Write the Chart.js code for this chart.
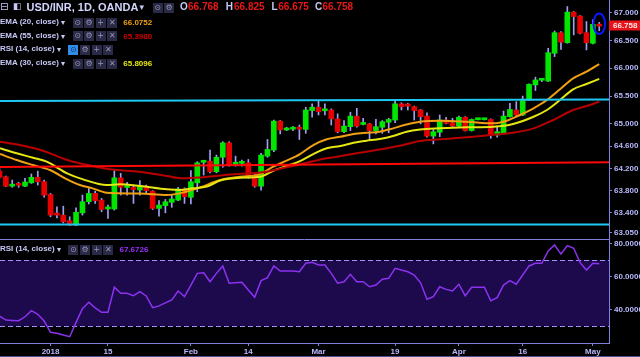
<!DOCTYPE html>
<html><head><meta charset="utf-8">
<script src="https://cdn.jsdelivr.net/npm/chart.js@4.4.1/dist/chart.umd.min.js"></script>
<style>
html,body{margin:0;padding:0;background:#000;width:640px;height:357px;overflow:hidden;font-family:"Liberation Sans",Arial,sans-serif;}
canvas{position:absolute;left:0;background:#000;}
#c1{top:0;}
#c2{top:240px;}
.t{position:absolute;white-space:nowrap;line-height:1;}
.lab{font-weight:bold;font-size:8px;color:#c8c8f8;}
.box{position:absolute;width:10px;height:10px;background:#2a2a46;color:#9494b8;font:8px "DejaVu Sans";line-height:10px;text-align:center;}
.box.hi{background:#2f8fe8;color:#10306a;}
</style></head><body>
<canvas id="c1" width="640" height="240"></canvas>
<canvas id="c2" width="640" height="117"></canvas>
<div id="leg"></div>
<script>
// ---------- DATA ----------
const opens  = [64.15,64.05,63.88,63.905,63.88,63.94,64.04,63.96,63.73,63.37,63.36,63.26,63.18,63.40,63.60,63.75,63.63,63.47,63.47,64.03,63.855,63.86,63.81,63.88,63.79,63.48,63.53,63.59,63.63,63.83,63.68,63.94,64.31,64.33,64.14,64.40,64.66,64.275,64.29,64.30,64.08,63.88,64.42,64.53,65.05,64.89,64.905,64.915,64.90,65.24,65.30,65.235,65.25,65.09,64.86,64.95,65.14,64.99,65.00,64.88,64.94,65.03,65.07,65.36,65.325,65.31,65.25,65.14,64.78,64.85,65.07,65.02,64.96,65.12,64.88,65.075,65.075,65.08,64.80,64.84,65.13,65.25,65.16,65.43,65.70,65.785,65.77,66.27,66.64,66.46,67.01,66.94,66.64,66.45,66.768];
const highs  = [64.19,64.06,63.99,63.95,64.02,64.10,64.15,63.99,63.75,63.51,63.52,63.33,63.49,63.72,63.84,63.79,63.66,63.54,64.16,64.11,63.95,63.90,63.98,63.90,63.80,63.62,63.64,63.72,63.86,63.85,64.16,64.32,64.34,64.53,64.44,64.68,64.68,64.42,64.35,64.36,64.10,64.47,64.72,65.07,65.06,64.94,64.95,64.98,65.30,65.36,65.42,65.36,65.27,65.18,65.06,65.21,65.28,65.10,65.01,65.08,65.06,65.10,65.42,65.38,65.37,65.32,65.26,65.20,64.90,65.16,65.12,65.10,65.14,65.13,65.09,65.09,65.09,65.09,64.96,65.23,65.37,65.40,65.50,65.72,65.84,65.82,66.36,66.67,66.66,67.11,67.02,66.95,66.84,66.87,66.825];
const lows   = [64.02,63.87,63.86,63.86,63.87,63.93,63.90,63.68,63.33,63.31,63.22,63.17,63.17,63.36,63.56,63.57,63.42,63.30,63.45,63.72,63.72,63.57,63.72,63.75,63.46,63.34,63.40,63.50,63.62,63.57,63.56,63.78,64.08,64.12,64.12,64.22,64.24,64.24,64.24,64.02,63.86,63.81,64.40,64.50,64.82,64.88,64.88,64.72,64.83,65.12,65.16,65.16,64.98,64.84,64.84,64.88,64.94,64.98,64.72,64.82,64.83,64.84,65.02,65.25,65.25,65.07,65.00,64.76,64.64,64.77,65.00,64.94,64.95,64.87,64.87,65.07,65.07,64.74,64.76,64.82,65.12,65.13,65.15,65.42,65.60,65.76,65.76,66.21,66.34,66.45,66.60,66.62,66.33,66.44,66.675];
const closes = [64.04,63.88,63.90,63.895,63.955,64.04,63.96,63.72,63.36,63.36,63.24,63.18,63.41,63.60,63.75,63.62,63.46,63.48,64.03,63.86,63.865,63.82,63.89,63.80,63.48,63.54,63.60,63.65,63.83,63.69,63.96,64.30,64.32,64.14,64.40,64.66,64.26,64.28,64.30,64.08,63.88,64.44,64.54,65.05,64.89,64.90,64.91,64.905,65.25,65.30,65.22,65.24,65.09,64.86,64.96,65.14,64.96,65.00,64.88,64.95,65.04,65.08,65.36,65.31,65.32,65.24,65.13,64.78,64.86,65.07,65.01,64.96,65.12,64.88,65.08,65.08,65.08,64.80,64.86,65.14,65.26,65.16,65.43,65.71,65.79,65.79,66.28,66.64,66.47,67.01,66.93,66.63,66.46,66.79,66.758];

const ema20X = [0.08,2.7,5.25,7.9,10.6,12.6,14.6,16.8,22,26.25,29.1,31.4,34.6,37.7,40.8,42.9,45,47.1,49.2,51.3,53.4,55.5,57.5,59.6,61.7,63.8,65.9,69.0,73.2,77.4,79.5,81.6,83.7,85.8,87.85,89.9,92.0,94];
const ema20Y = [64.458,64.350,64.260,64.170,64.003,63.901,63.841,63.762,63.748,63.721,63.775,63.856,63.991,64.050,64.093,64.230,64.338,64.458,64.620,64.723,64.769,64.818,64.841,64.859,64.920,64.989,65.039,65.057,65.039,65.010,65.057,65.160,65.280,65.429,65.622,65.820,65.938,66.075];
const ema30X = [0.08,2.7,5.25,7.4,10.6,13.1,16.8,18.9,22,26.25,28.3,30.3,32.5,34.6,37.7,40.8,42.9,45,47.1,49.2,51.3,53.4,55.5,57.5,59.6,61.7,63.8,65.9,69.0,73.2,77.4,80.5,83.7,85.8,87.85,89.9,92.0,94];
const ema30Y = [64.561,64.471,64.392,64.320,64.111,64.003,63.901,63.913,63.883,63.823,63.811,63.841,63.874,63.982,64.032,64.050,64.158,64.242,64.332,64.458,64.561,64.602,64.661,64.697,64.728,64.782,64.859,64.899,64.920,64.938,64.949,64.998,65.129,65.250,65.429,65.622,65.717,65.810];
const ema55X = [0.08,3.2,6.8,10.6,13.1,17.3,22,26.25,28.8,31.4,36.6,41.9,45,48.15,51.3,54.4,57.5,60.7,63.3,65.9,69.0,73.2,77.4,80.5,83.7,86.8,89.9,92.0,94];
const ema55Y = [64.679,64.620,64.518,64.350,64.278,64.183,64.140,64.063,64.021,64.036,64.093,64.140,64.219,64.302,64.381,64.440,64.500,64.561,64.620,64.692,64.723,64.759,64.805,64.841,64.920,65.070,65.250,65.322,65.398];

const rsiValues = [36.1,33.6,33.4,33.2,35.6,39.3,37.1,33.0,26.2,25.6,24.5,23.5,32.2,40.5,44.4,41.0,38.3,38.3,53.5,49.8,49.8,48.4,50.8,48.2,41.1,42.2,44.0,45.8,51.2,47.8,54.8,61.9,62.3,56.8,61.9,66.4,55.9,56.2,56.5,51.8,47.4,57.5,59.3,66.4,63.3,63.3,63.3,62.9,68.0,68.6,67.0,67.0,61.9,55.9,56.8,61.3,56.8,56.8,53.8,54.8,58.3,58.9,65.0,63.9,62.9,60.9,56.2,46.2,47.8,53.8,52.2,51.2,55.3,48.2,53.5,53.5,53.5,45.3,47.2,54.8,57.5,55.3,60.9,66.4,68.0,68.0,75.5,79.1,73.6,78.7,77.1,68.4,63.9,68.0,67.7];

// legend readouts as printed on the picture
const emaLegend = {ema20:'66.0752', ema55:'65.3980', ema30:'65.8096'};
const rsiLegendValue = '67.6726';

// drawn trend lines: [x-index, price] endpoints
const redTrendX = [-1, 97];     const redTrendY = [64.222, 64.310];
const cyanTopX  = [-1, 97];     const cyanTopY  = [65.410, 65.439];
const cyanBotX  = [-1, 97];     const cyanBotY  = [63.191, 63.193];

const priceTicks = [67.0,66.5,66.0,65.5,65.0,64.6,64.2,63.8,63.4,63.05];
const rsiTicks = [80,60,40];
const tickIdx = [8,17,30,39,50,62,72,82,93];
const tickLabels = ["2018","15","Feb","14","Mar","19","Apr","16","May"];
const rsiUpper = 70, rsiLower = 30;
const markPrice = 66.80;

// ---------- view ranges ----------
const xMin = 0.08, xMax = 95.53;
const yMin = 62.912, yMax = 67.228;
const rMin = 19.70, rMax = 82.12;

const AX = '#8080e0', TXT = '#b8b8ff';
const GREEN = '#00e600', RED = '#e60000', WICK = '#a0a0f2';
const tickFont = {family:'Liberation Sans', size:8, weight:'bold'};

const pts = (xs, ys) => xs.map((x,i)=>({x, y: ys[i]}));
const bodyData = opens.map((o,i)=>({x:i, y:[o, closes[i]]}));
const wickData = opens.map((o,i)=>({x:i, y:[lows[i], highs[i]]}));
const bodyColors = opens.map((o,i)=> closes[i] >= o ? GREEN : RED);

const mainOverlay = {
  id:'mainOverlay',
  afterDraw(chart){
    const {ctx, chartArea:a, scales:{x,y}} = chart;
    ctx.save();
    ctx.strokeStyle = AX; ctx.lineWidth = 1;
    ctx.beginPath(); ctx.moveTo(0, a.bottom-0.5); ctx.lineTo(a.right, a.bottom-0.5); ctx.stroke();
    const last = closes.length-1;
    ctx.strokeStyle = '#0a18ff'; ctx.lineWidth = 2;
    ctx.beginPath(); ctx.ellipse(x.getPixelForValue(last), y.getPixelForValue(markPrice), 5.8, 10.2, 0, 0, Math.PI*2); ctx.stroke();
    const yy = y.getPixelForValue(closes[last]);
    ctx.fillStyle = '#e8141c';
    ctx.fillRect(a.right, Math.round(yy)-5.5, 31, 10);
    ctx.fillStyle = '#ffe8e8'; ctx.font = 'bold 8px "Liberation Sans"'; ctx.textBaseline = 'middle'; ctx.textAlign='left';
    ctx.fillText(closes[last].toFixed(3), a.right+4, Math.round(yy));
    ctx.restore();
  }
};

new Chart(document.getElementById('c1'), {
  type:'bar',
  data:{datasets:[
    {type:'line', data:pts(redTrendX, redTrendY), borderColor:'#ff0808', borderWidth:2, pointRadius:0, order:0},
    {type:'line', data:pts(cyanTopX, cyanTopY), borderColor:'#1ec8f2', borderWidth:2, pointRadius:0, order:0},
    {type:'line', data:pts(cyanBotX, cyanBotY), borderColor:'#1ec8f2', borderWidth:2, pointRadius:0, order:0},
    {type:'line', data:pts(ema55X, ema55Y), borderColor:'#b80000', borderWidth:2, pointRadius:0, tension:0.4, cubicInterpolationMode:'monotone', order:1},
    {type:'line', data:pts(ema30X, ema30Y), borderColor:'#e6e612', borderWidth:2, pointRadius:0, tension:0.4, cubicInterpolationMode:'monotone', order:1},
    {type:'line', data:pts(ema20X, ema20Y), borderColor:'#f0a010', borderWidth:2, pointRadius:0, tension:0.4, cubicInterpolationMode:'monotone', order:1},
    {type:'bar', data:bodyData, backgroundColor:bodyColors, barThickness:5, grouped:false, minBarLength:2, borderWidth:0, order:2},
    {type:'bar', data:wickData, backgroundColor:WICK, barThickness:1, grouped:false, borderWidth:0, order:3}
  ]},
  options:{
    responsive:false, animation:false, events:[],
    layout:{padding:0},
    plugins:{legend:{display:false}, tooltip:{enabled:false}},
    scales:{
      x:{type:'linear', min:xMin, max:xMax, offset:false, display:false},
      y:{type:'linear', position:'right', min:yMin, max:yMax, beginAtZero:false,
        afterBuildTicks: s => { s.ticks = priceTicks.map(v=>({value:v})); },
        afterFit: s => { s.width = 31; s.paddingTop = 0; s.paddingBottom = 0; },
        ticks:{color:TXT, font:tickFont, padding:2, autoSkip:false, callback:v=>Number(v).toFixed(3)},
        grid:{drawOnChartArea:false, drawTicks:true, tickLength:3, color:AX},
        border:{display:true, color:AX, width:1}
      }
    }
  },
  plugins:[mainOverlay]
});

const rsiBand = {
  id:'rsiBand',
  beforeDatasetsDraw(chart){
    const {ctx, chartArea:a, scales:{y}} = chart;
    const y1 = y.getPixelForValue(rsiUpper), y2 = y.getPixelForValue(rsiLower);
    ctx.save();
    ctx.fillStyle = '#1c0a4c';
    ctx.fillRect(a.left, y1, a.right-a.left, y2-y1);
    ctx.strokeStyle = '#a294f4'; ctx.lineWidth = 1; ctx.setLineDash([5,3]);
    [y1,y2].forEach(v=>{ctx.beginPath(); ctx.moveTo(a.left, Math.round(v)+0.5); ctx.lineTo(a.right, Math.round(v)+0.5); ctx.stroke();});
    ctx.restore();
  },
  afterDraw(chart){
    const {ctx} = chart;
    ctx.save(); ctx.strokeStyle = '#50508c'; ctx.lineWidth = 1;
    ctx.beginPath(); ctx.moveTo(0, chart.height-0.5); ctx.lineTo(chart.width, chart.height-0.5); ctx.stroke();
    ctx.restore();
  }
};

new Chart(document.getElementById('c2'), {
  type:'line',
  data:{datasets:[
    {data:rsiValues.map((v,i)=>({x:i, y:v})), borderColor:'#8c32f0', borderWidth:1.5, pointRadius:0, tension:0}
  ]},
  options:{
    responsive:false, animation:false, events:[],
    layout:{padding:0},
    plugins:{legend:{display:false}, tooltip:{enabled:false}},
    scales:{
      x:{type:'linear', position:'bottom', min:xMin, max:xMax, offset:false,
        afterBuildTicks: s => { s.ticks = tickIdx.map(v=>({value:v})); },
        afterFit: s => { s.height = 14; s.paddingLeft = 0; s.paddingRight = 0; },
        ticks:{color:TXT, font:tickFont, padding:1, autoSkip:false, maxRotation:0, callback:v=>tickLabels[tickIdx.indexOf(v)]},
        grid:{drawOnChartArea:false, drawTicks:true, tickLength:3, color:AX},
        border:{display:true, color:AX, width:1}
      },
      y:{type:'linear', position:'right', min:rMin, max:rMax, beginAtZero:false,
        afterBuildTicks: s => { s.ticks = rsiTicks.map(v=>({value:v})); },
        afterFit: s => { s.width = 31; s.paddingTop = 0; s.paddingBottom = 0; },
        ticks:{color:TXT, font:tickFont, padding:2, autoSkip:false, callback:v=>Number(v).toFixed(4)},
        grid:{drawOnChartArea:false, drawTicks:true, tickLength:3, color:AX},
        border:{display:true, color:AX, width:1}
      }
    }
  },
  plugins:[rsiBand]
});

// ---------- legend (HTML text) ----------
const leg = document.getElementById('leg');
function txt(s, left, top, style, cls){
  const d = document.createElement('div');
  d.className = 't' + (cls ? ' '+cls : '');
  d.style.left = left+'px'; d.style.top = top+'px';
  if (style) d.style.cssText += style;
  d.textContent = s; leg.appendChild(d);
}
function box(left, top, g, hi){
  const d = document.createElement('div');
  d.className = 'box' + (hi ? ' hi' : '');
  d.style.left = left+'px'; d.style.top = top+'px';
  d.textContent = g; leg.appendChild(d);
}
const icons = ['\u2299','\u2699','+','\u2715'];
txt('\u229F', 0, 1, 'font:10px "DejaVu Sans";color:#c8c8f8;');
txt('\u25E7', 13, 1, 'font:9px "DejaVu Sans";color:#c8c8f8;');
txt('USD/INR, 1D, OANDA', 26.5, 0.5, 'font:bold 11px "Liberation Sans";color:#d4d4ff;');
txt('\u25BE', 139.5, 2, 'font:9px "DejaVu Sans";color:#c8c8f8;');
box(152.7, 3.3, icons[0]); box(164, 3.3, icons[1]);
const last = closes.length-1;
const ohlcLabels = ['O','H','L','C'];
const ohlcVals = [opens[last], highs[last], lows[last], closes[last]];
const ohlcLeft = [[180,188],[225.8,234],[271.6,278.3],[315,322.5]];
ohlcLabels.forEach((l,i)=>{
  txt(l, ohlcLeft[i][0], 1.4, 'font:bold 10px "Liberation Sans";color:#c8c8f8;');
  txt(ohlcVals[i].toFixed(3), ohlcLeft[i][1], 1.4, 'font:bold 10px "Liberation Sans";color:#e81818;');
});
const rows = [
  {name:'EMA (20, close)', top:18, val:emaLegend.ema20, col:'#f0a010'},
  {name:'EMA (55, close)', top:31.7, val:emaLegend.ema55, col:'#d00000'},
  {name:'RSI (14, close)', top:45.3, val:null, col:null, hi:true},
  {name:'EMA (30, close)', top:59.1, val:emaLegend.ema30, col:'#e6e612'}
];
rows.forEach(r=>{
  txt(r.name, 0, r.top, '', 'lab');
  const rsi = r.name.startsWith('RSI');
  txt('\u25BE', rsi ? 57 : 61, r.top, 'font:8px "DejaVu Sans";color:#c8c8f8;');
  const bx = rsi ? [68.3,80,91.7,103.3] : [72.7,84,95.7,107.3];
  bx.forEach((x,i)=>box(x, r.top-0.3, icons[i], r.hi && i===0));
  if (r.val) txt(r.val, 123.3, r.top, 'font:bold 8px "Liberation Sans";color:'+r.col+';');
});
txt('RSI (14, close)', 0, 245.2, '', 'lab');
txt('\u25BE', 57, 245.2, 'font:8px "DejaVu Sans";color:#c8c8f8;');
[68.3,80,91.7,103.3].forEach((x,i)=>box(x, 245, icons[i]));
txt(rsiLegendValue, 119.5, 245.2, 'font:bold 8px "Liberation Sans";color:#9b30ff;');
</script>
</body></html>
